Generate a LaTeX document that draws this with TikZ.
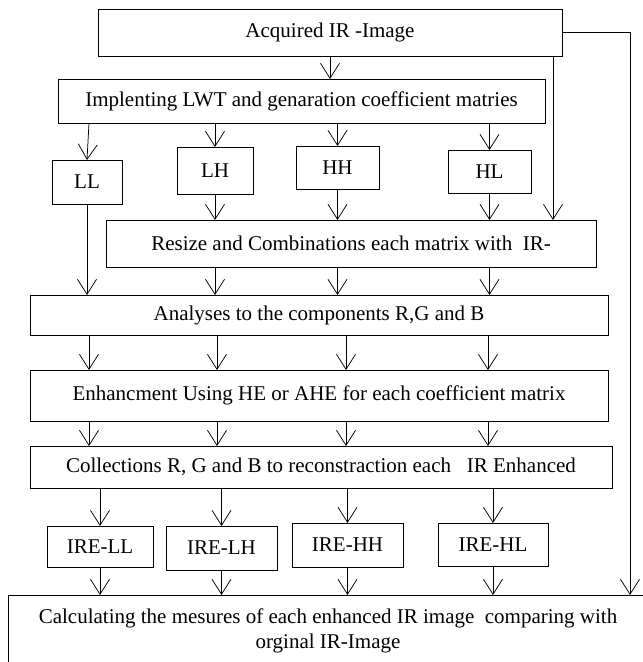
\documentclass[tikz,border=0pt]{standalone}
\usepackage{fontspec}
\setmainfont{Liberation Serif}
\usetikzlibrary{arrows.meta}

\begin{document}
\begin{tikzpicture}[x=1pt, y=-1pt,
  box/.style={draw, line width=0.9pt, inner sep=0pt, outer sep=0pt, align=center, font=\fontsize{21}{25}\selectfont},
  arr/.style={-{Straight Barb[length=15pt, width=19pt]}, line width=0.75pt}
]
\useasboundingbox (0,0) rectangle (643,662);
\node[box, minimum width=464, minimum height=47] (acq) at (330,32.5) {Acquired IR -Image};
\node[box, minimum width=487, minimum height=44] (impl) at (301.5,101) {Implenting LWT and genaration coefficient matries};
\node[box, minimum width=70, minimum height=44] (ll) at (87,182) {LL};
\node[box, minimum width=76, minimum height=47] (lh) at (215,170.5) {LH};
\node[box, minimum width=83, minimum height=43] (hh) at (337.5,167.5) {HH};
\node[box, minimum width=83, minimum height=43] (hl) at (489.5,171.5) {HL};
\node[box, minimum width=490, minimum height=47] (resize) at (351,243.5) {Resize and Combinations each matrix with\ \ IR-};
\node[box, minimum width=578, minimum height=40] (ana) at (319,315) {\raisebox{-4pt}{Analyses to the components R,G and B}};
\node[box, minimum width=578, minimum height=51] (enh) at (319,395.5) {Enhancment Using HE or AHE for each coefficient matrix};
\node[box, minimum width=582, minimum height=42] (coll) at (321,467) {Collections R, G and B to reconstraction each\ \ \ IR Enhanced};
\node[box, minimum width=106, minimum height=41] (irell) at (100,546.5) {IRE-LL};
\node[box, minimum width=111, minimum height=44] (irelh) at (221.5,548) {IRE-LH};
\node[box, minimum width=111, minimum height=44] (irehh) at (347.5,545) {IRE-HH};
\node[box, minimum width=110, minimum height=43] (irehl) at (493,544.5) {IRE-HL};
\node[box, minimum width=640, minimum height=72] (calc) at (328,631) {Calculating the mesures of each enhanced IR image\ \ comparing with\\orginal IR-Image};
\coordinate (k1) at (89,0);
\coordinate (k2) at (217,0);
\coordinate (k3) at (346,0);
\coordinate (k4) at (488,0);
\coordinate (side) at (553,0);
\coordinate (edge) at (630,0);
\draw[arr] (acq.south) -- (impl.north -| acq);
\draw[arr] (impl.south -| k1) -- (ll.north);
\draw[arr] (impl.south -| lh) -- (lh.north);
\draw[arr] (impl.south -| hh) -- (hh.north);
\draw[arr] (impl.south -| hl) -- (hl.north);
\draw[arr] (acq.south -| side) -- (resize.north -| side);
\draw[arr] (acq.east) -| (calc.north -| edge);
\draw[arr] (ll.south) -- (ana.north -| ll);
\draw[arr] (lh.south) -- (resize.north -| lh);
\draw[arr] (hh.south) -- (resize.north -| hh);
\draw[arr] (hl.south) -- (resize.north -| hl);
\draw[arr] (resize.south -| lh) -- (ana.north -| lh);
\draw[arr] (resize.south -| hh) -- (ana.north -| hh);
\draw[arr] (resize.south -| hl) -- (ana.north -| hl);
\draw[arr] (ana.south -| k1) -- (enh.north -| k1);
\draw[arr] (ana.south -| k2) -- (enh.north -| k2);
\draw[arr] (ana.south -| k3) -- (enh.north -| k3);
\draw[arr] (ana.south -| k4) -- (enh.north -| k4);
\draw[arr] (enh.south -| k1) -- (coll.north -| k1);
\draw[arr] (enh.south -| k2) -- (coll.north -| k2);
\draw[arr] (enh.south -| k3) -- (coll.north -| k3);
\draw[arr] (enh.south -| k4) -- (coll.north -| k4);
\draw[arr] (coll.south -| irell) -- (irell.north);
\draw[arr] (coll.south -| irelh) -- (irelh.north);
\draw[arr] (coll.south -| irehh) -- (irehh.north);
\draw[arr] (coll.south -| irehl) -- (irehl.north);
\draw[arr] (irell.south) -- (calc.north -| irell);
\draw[arr] (irelh.south) -- (calc.north -| irelh);
\draw[arr] (irehh.south) -- (calc.north -| irehh);
\draw[arr] (irehl.south) -- (calc.north -| irehl);
\end{tikzpicture}
\end{document}
